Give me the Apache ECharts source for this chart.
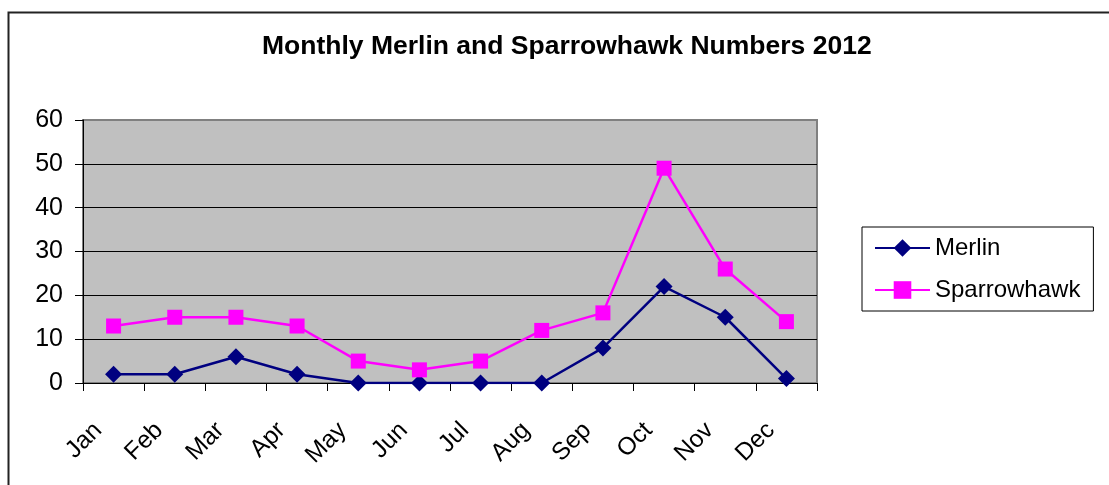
<!DOCTYPE html>
<html><head><meta charset="utf-8">
<script src="https://cdn.jsdelivr.net/npm/echarts@6/dist/echarts.min.js"></script>
<style>html,body{margin:0;padding:0;background:#fff}#c{width:1109px;height:485px}</style>
</head><body><div id="c"></div>
<script>
const months = ['Jan','Feb','Mar','Apr','May','Jun','Jul','Aug','Sep','Oct','Nov','Dec'];
const merlin = [2,2,6,2,0,0,0,0,8,22,15,1];
const sparrowhawk = [13,15,15,13,5,3,5,12,16,49,26,14];
const yTicks = [0,10,20,30,40,50,60];
const FONT = '"Liberation Sans", Arial, sans-serif';
const chart = echarts.init(document.getElementById('c'));
chart.setOption({
  animation: false,
  backgroundColor: '#fff',
  graphic: [{type:'rect', shape:{x:8.5,y:12.5,width:1110,height:490}, style:{fill:'none',stroke:'#222',lineWidth:2}, z:-1}],
  title: {text:'Monthly Merlin and Sparrowhawk Numbers 2012', left:257, top:28,
    textStyle:{fontFamily:FONT,fontSize:26.5,fontWeight:'bold',color:'#000'}},
  grid: {left:83, right:292, top:120, bottom:102, show:true, backgroundColor:'#c0c0c0', borderColor:'#808080', borderWidth:2},
  legend: {orient:'vertical', left:862, top:227, itemWidth:55, itemHeight:22, itemGap:18,
    padding:[9,13,9,12], borderColor:'#000', borderWidth:1, borderRadius:0,
    textStyle:{fontFamily:FONT,fontSize:24,color:'#000'}, data:['Merlin','Sparrowhawk']},
  xAxis: {type:'category', data:months, boundaryGap:true,
    axisLine:{lineStyle:{color:'#000',width:1}},
    axisTick:{show:true, length:8, lineStyle:{color:'#000'}},
    axisLabel:{rotate:45, fontFamily:FONT, fontSize:24.5, color:'#000', margin:28, padding:[0,22,0,0]}},
  yAxis: {type:'value', min:0, max:60, interval:10,
    axisLine:{show:true, lineStyle:{color:'#000',width:1}},
    axisTick:{show:true, length:8, lineStyle:{color:'#000'}},
    axisLabel:{fontFamily:FONT, fontSize:25, color:'#000', margin:20,
      formatter: v => yTicks.includes(v) ? String(v) : ''},
    splitLine:{lineStyle:{color:['#000','#000','#000','#000','#000','#000','#808080'],width:1}}},
  series: [
    {name:'Merlin', type:'line', data:merlin, symbol:'diamond', symbolSize:17,
      lineStyle:{color:'#000080',width:2.5}, itemStyle:{color:'#000080'}},
    {name:'Sparrowhawk', type:'line', data:sparrowhawk, symbol:'rect', symbolSize:15,
      lineStyle:{color:'#ff00ff',width:2.5}, itemStyle:{color:'#ff00ff'}}
  ]
});
</script></body></html>
